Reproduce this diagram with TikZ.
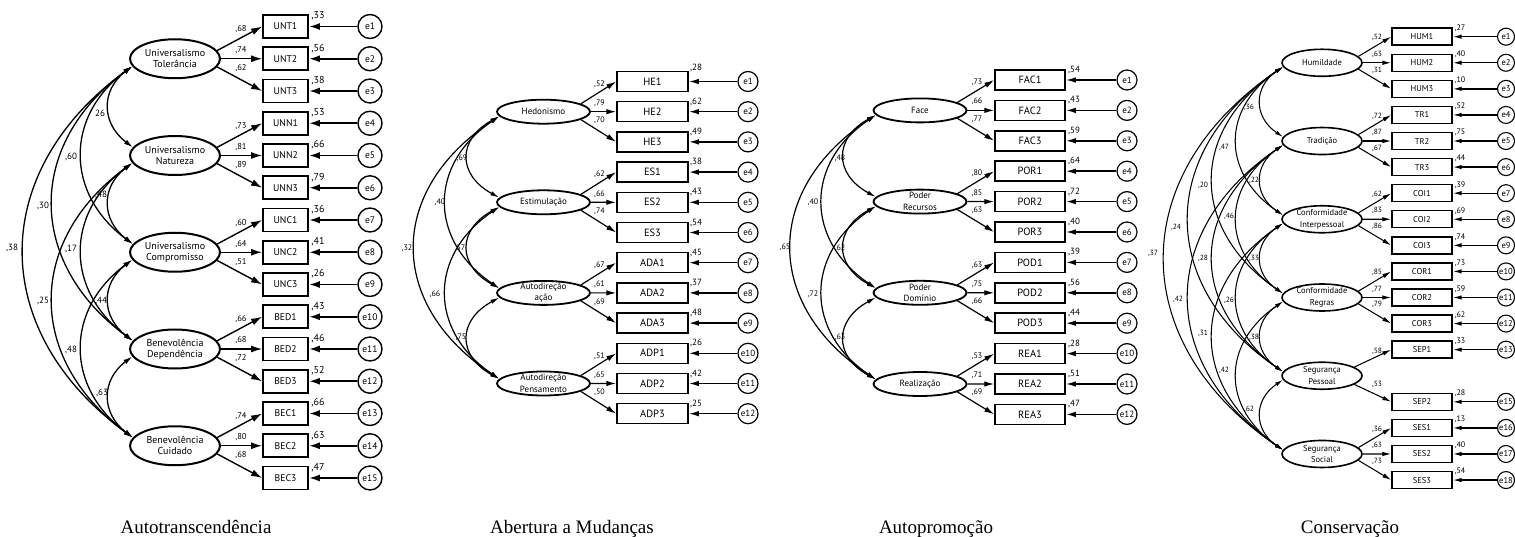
\documentclass[tikz,border=0pt]{standalone}
\usepackage{fontspec}
\setmainfont{PT Sans}
\newfontfamily\titlefont{Liberation Serif}
\usetikzlibrary{arrows.meta,calc,shapes.geometric}
\newcommand\cv[7]{%
  \draw[cov] (#1.\cvlo) .. controls ($(#1.\cvlo)+(-#3,#4)$) and ($(#2.\cvup)+(-#3,-#4)$) .. (#2.\cvup);
  \node[cvlab] (#1#2l) at (#6,#7) {#5};
}
\newcommand\ldt[7]{%
  \draw[ld] (#1.\ldang) -- (#2.west);
  \draw[ld] (#1.east) -- (#3.west);
  \draw[ld] (#1.\ldangb) -- (#4.west);
  \node[ldlab] (#1l1) at ($(#1.center)+(\ldx,\ldya)$) {,#5};
  \node[ldlab] (#1l2) at ($(#1.center)+(\ldx,\ldyb)$) {,#6};
  \node[ldlab] (#1l3) at ($(#1.center)+(\ldx,\ldyc)$) {,#7};
}
\begin{document}
\begin{tikzpicture}[x=1pt,y=-1pt,
  title/.style={font=\titlefont\fontsize{19}{21}\selectfont, anchor=base, inner sep=0pt}]
\useasboundingbox (0,0) rectangle (1515,537);

%================ Panel 1
\begin{scope}[
  lat/.style={ellipse, draw, line width=2pt, minimum width=90pt, minimum height=39pt, inner sep=0pt, align=center, font=\fontsize{10}{11}\selectfont},
  box/.style={draw, line width=1.8pt, minimum width=45pt, minimum height=23pt, inner sep=0pt, font=\fontsize{9.7}{10}\selectfont},
  err/.style={circle, draw, line width=1.4pt, minimum size=24pt, inner sep=0pt, font=\fontsize{9.5}{10}\selectfont},
  rlab/.style={inner sep=0pt, font=\fontsize{10}{10}\selectfont},
  ld/.style={line width=1.4pt, -{Latex[length=11pt,width=7pt]}},
  earr/.style={line width=1.8pt, -{Latex[length=11pt,width=7pt]}},
  cov/.style={line width=1.3pt, {Latex[length=9pt,width=5pt]}-{Latex[length=9pt,width=5pt]}},
  ldlab/.style={inner sep=0pt, font=\fontsize{8.5}{9}\selectfont},
  cvlab/.style={inner sep=0pt, font=\fontsize{9}{9}\selectfont}]
\def\cvlo{190}\def\cvup{169}\def\ldang{11}\def\ldangb{349}
\def\ldx{66}\def\ldya{-29.5}\def\ldyb{-8.5}\def\ldyc{9.5}
\foreach \n/\r [count=\k from 0] in {UNT1/33,UNT2/56,UNT3/38,UNN1/53,UNN2/66,UNN3/79,UNC1/36,UNC2/41,UNC3/26,BED1/43,BED2/46,BED3/52,BEC1/66,BEC2/63,BEC3/47}{
  \pgfmathsetmacro\yy{26.5+32.25*\k}
  \pgfmathtruncatemacro\ei{\k+1}
  \node[box] (a\n) at (285.5,\yy) {\n};
  \node[err] (ae\ei) at (370,\yy) {e\ei};
  \node[rlab] (ar\ei) at (318,\yy-10.5) {,\r};
  \draw[earr] (ae\ei) -- (a\n);
}
\node[lat] (UT) at (175,58.75) {Universalismo\\Tolerância};
\node[lat] (UN) at (175,155.5) {Universalismo\\Natureza};
\node[lat] (UC) at (175,252.25) {Universalismo\\Compromisso};
\node[lat] (BD) at (175,349) {Benevolência\\Dependência};
\node[lat] (BC) at (175,445.75) {Benevolência\\Cuidado};
\ldt{UT}{aUNT1}{aUNT2}{aUNT3}{68}{74}{62}
\ldt{UN}{aUNN1}{aUNN2}{aUNN3}{73}{81}{89}
\ldt{UC}{aUNC1}{aUNC2}{aUNC3}{60}{64}{51}
\ldt{BD}{aBED1}{aBED2}{aBED3}{66}{68}{72}
\ldt{BC}{aBEC1}{aBEC2}{aBEC3}{74}{80}{68}
\cv{UT}{UN}{31.6}{24}{26}{100}{113}
\cv{UT}{UC}{67.6}{50}{,60}{71}{157}
\cv{UT}{BD}{106.3}{78}{,30}{43}{206}
\cv{UT}{BC}{145}{106}{,38}{12}{248}
\cv{UN}{UC}{31.6}{24}{,48}{101}{195}
\cv{UN}{BD}{67.6}{50}{,17}{71}{249}
\cv{UN}{BC}{106.3}{78}{,25}{43}{301}
\cv{UC}{BD}{31.6}{24}{,44}{101}{301}
\cv{UC}{BC}{67.6}{50}{,48}{71}{350}
\cv{BD}{BC}{31.6}{24}{,63}{102}{393}
\node[title] (t1) at (196,533) {Autotranscendência};
\end{scope}

%================ Panel 2
\begin{scope}[
  lat/.style={ellipse, draw, line width=1.8pt, minimum width=93pt, minimum height=24pt, inner sep=0pt, inner ysep=-2pt, align=center, font=\fontsize{9}{11.5}\selectfont},
  box/.style={draw, line width=1.5pt, minimum width=71pt, minimum height=20pt, inner sep=0pt, font=\fontsize{10.5}{11}\selectfont},
  err/.style={circle, draw, line width=1.2pt, minimum size=20pt, inner sep=0pt, font=\fontsize{9}{10}\selectfont},
  rlab/.style={inner sep=0pt, font=\fontsize{9}{10}\selectfont},
  ld/.style={line width=1.2pt, -{Latex[length=10pt,width=5.5pt]}},
  earr/.style={line width=1.5pt, -{Latex[length=10pt,width=5.5pt]}},
  cov/.style={line width=1.2pt, {Latex[length=9pt,width=4.5pt]}-{Latex[length=9pt,width=4.5pt]}},
  ldlab/.style={inner sep=0pt, font=\fontsize{8}{9}\selectfont},
  cvlab/.style={inner sep=0pt, font=\fontsize{8}{9}\selectfont}]
\def\cvlo{186}\def\cvup{174}\def\ldang{12}\def\ldangb{348}
\def\ldx{56}\def\ldya{-27.7}\def\ldyb{-8.4}\def\ldyc{9}
\foreach \n/\r [count=\k from 0] in {HE1/28,HE2/62,HE3/49,ES1/38,ES2/43,ES3/54,ADA1/45,ADA2/37,ADA3/48,ADP1/26,ADP2/42,ADP3/25}{
  \pgfmathsetmacro\yy{81.5+30.2*\k}
  \pgfmathsetmacro\ry{\k==0 ? \yy-14 : \yy-10}
  \pgfmathtruncatemacro\ei{\k+1}
  \node[box] (b\n) at (652.5,\yy) {\n};
  \node[err] (be\ei) at (748,\yy) {e\ei};
  \node[rlab] (br\ei) at (696,\ry) {,\r};
  \draw[earr] (be\ei) -- (b\n);
}
\node[lat] (HE) at (543.5,111.7) {Hedonismo};
\node[lat] (ES) at (543.5,202.3) {Estimulação};
\node[lat] (AA) at (543.5,292.9) {Autodireção\\ação};
\node[lat] (AP) at (543.5,383.5) {Autodireção\\Pensamento};
\ldt{HE}{bHE1}{bHE2}{bHE3}{52}{79}{70}
\ldt{ES}{bES1}{bES2}{bES3}{62}{66}{74}
\ldt{AA}{bADA1}{bADA2}{bADA3}{67}{61}{69}
\ldt{AP}{bADP1}{bADP2}{bADP3}{51}{65}{50}
\cv{HE}{ES}{42}{23}{,69}{462}{158}
\cv{HE}{AA}{71}{48}{,40}{440}{202}
\cv{HE}{AP}{112.5}{74}{,32}{407}{248}
\cv{ES}{AA}{42}{23}{,57}{460}{248}
\cv{ES}{AP}{71}{48}{,66}{435}{294}
\cv{AA}{AP}{42}{23}{,75}{461}{337}
\node[title] (t2) at (572,533) {Abertura a Mudanças};
\end{scope}

%================ Panel 3
\begin{scope}[
  lat/.style={ellipse, draw, line width=1.8pt, minimum width=93pt, minimum height=24pt, inner sep=0pt, inner ysep=-2pt, align=center, font=\fontsize{9}{11.5}\selectfont},
  box/.style={draw, line width=1.5pt, minimum width=70pt, minimum height=20pt, inner sep=0pt, font=\fontsize{10.5}{11}\selectfont},
  err/.style={circle, draw, line width=1.2pt, minimum size=20pt, inner sep=0pt, font=\fontsize{9}{10}\selectfont},
  rlab/.style={inner sep=0pt, font=\fontsize{9}{10}\selectfont},
  ld/.style={line width=1.2pt, -{Latex[length=10pt,width=5.5pt]}},
  earr/.style={line width=1.5pt, -{Latex[length=10pt,width=5.5pt]}},
  cov/.style={line width=1.2pt, {Latex[length=9pt,width=4.5pt]}-{Latex[length=9pt,width=4.5pt]}},
  ldlab/.style={inner sep=0pt, font=\fontsize{8}{9}\selectfont},
  cvlab/.style={inner sep=0pt, font=\fontsize{8}{9}\selectfont}]
\def\cvlo{186}\def\cvup{174}\def\ldang{12}\def\ldangb{348}
\def\ldx{57}\def\ldya{-28}\def\ldyb{-8.7}\def\ldyc{8.6}
\foreach \n/\r [count=\k from 0] in {FAC1/54,FAC2/43,FAC3/59,POR1/64,POR2/72,POR3/40,POD1/39,POD2/56,POD3/44,REA1/28,REA2/51,REA3/47}{
  \pgfmathsetmacro\yy{80+30.4*\k}
  \pgfmathtruncatemacro\ei{\k+1}
  \node[box] (c\n) at (1030,\yy) {\n};
  \node[err] (ce\ei) at (1127,\yy) {e\ei};
  \node[rlab] (cr\ei) at (1074,\yy-10) {,\r};
  \draw[earr] (ce\ei) -- (c\n);
}
\node[lat] (FA) at (920,110.4) {Face};
\node[lat] (PR) at (920,201.6) {Poder\\Recursos};
\node[lat] (PD) at (920,292.8) {Poder\\Domínio};
\node[lat] (RE) at (920,384) {Realização};
\ldt{FA}{cFAC1}{cFAC2}{cFAC3}{73}{66}{77}
\ldt{PR}{cPOR1}{cPOR2}{cPOR3}{80}{85}{63}
\ldt{PD}{cPOD1}{cPOD2}{cPOD3}{63}{75}{66}
\ldt{RE}{cREA1}{cREA2}{cREA3}{53}{71}{69}
\cv{FA}{PR}{42}{23}{,48}{840}{158}
\cv{FA}{PD}{71}{48}{,40}{813}{202}
\cv{FA}{RE}{112.5}{74}{,65}{785}{247}
\cv{PR}{PD}{42}{23}{,62}{840}{248}
\cv{PR}{RE}{71}{48}{,72}{813}{294}
\cv{PD}{RE}{42}{23}{,63}{840}{337}
\node[title] (t3) at (936,533) {Autopromoção};
\end{scope}

%================ Panel 4
\begin{scope}[
  lat/.style={ellipse, draw, line width=1.6pt, minimum width=80pt, minimum height=27pt, inner sep=0pt, inner ysep=-2pt, align=center, font=\fontsize{8.5}{11.5}\selectfont},
  box/.style={draw, line width=1.4pt, minimum width=60pt, minimum height=17pt, inner sep=0pt, font=\fontsize{8.5}{9}\selectfont},
  err/.style={circle, draw, line width=1.1pt, minimum size=17pt, inner sep=0pt, font=\fontsize{8.5}{9}\selectfont},
  rlab/.style={inner sep=0pt, font=\fontsize{8}{9}\selectfont},
  ld/.style={line width=1.05pt, -{Latex[length=9pt,width=4.5pt]}},
  earr/.style={line width=1.3pt, -{Latex[length=9pt,width=4.5pt]}},
  cov/.style={line width=1.05pt, {Latex[length=8pt,width=4pt]}-{Latex[length=8pt,width=4pt]}},
  ldlab/.style={inner sep=0pt, font=\fontsize{7.5}{8}\selectfont},
  cvlab/.style={inner sep=0pt, font=\fontsize{7.5}{8}\selectfont}]
\def\cvlo{186}\def\cvup{174}\def\ldang{10}\def\ldangb{350}
\def\ldx{55}\def\ldya{-25}\def\ldyb{-8.4}\def\ldyc{7.3}
\foreach \n/\r/\s in {HUM1/27/0,HUM2/40/1,HUM3/10/2,TR1/52/3,TR2/75/4,TR3/44/5,COI1/39/6,COI2/69/7,COI3/74/8,COR1/73/9,COR2/59/10,COR3/62/11,SEP1/33/12,SEP2/28/14,SES1/13/15,SES2/40/16,SES3/54/17}{
  \pgfmathsetmacro\yy{36.7+26.08*\s}
  \pgfmathtruncatemacro\ei{\s+1}
  \node[box] (d\n) at (1422,\yy) {\n};
  \node[err] (de\ei) at (1506,\yy) {e\ei};
  \node[rlab] (dr\ei) at (1460,\yy-8.4) {,\r};
  \draw[earr] (de\ei) -- (d\n);
}
\node[lat] (HU) at (1322,62.78) {Humildade};
\node[lat] (TR) at (1322,141.02) {Tradição};
\node[lat] (CI) at (1322,219.26) {Conformidade\\Interpessoal};
\node[lat] (CR) at (1322,297.5) {Conformidade\\Regras};
\node[lat] (SP) at (1322,375.74) {Segurança\\Pessoal};
\node[lat] (SS) at (1322,453.98) {Segurança\\Social};
\ldt{HU}{dHUM1}{dHUM2}{dHUM3}{52}{63}{31}
\ldt{TR}{dTR1}{dTR2}{dTR3}{72}{87}{67}
\ldt{CI}{dCOI1}{dCOI2}{dCOI3}{62}{83}{86}
\ldt{CR}{dCOR1}{dCOR2}{dCOR3}{85}{77}{79}
\ldt{SS}{dSES1}{dSES2}{dSES3}{36}{63}{73}
\draw[ld] (SP.15) -- (dSEP1.west);
\draw[ld] (SP.345) -- (dSEP2.west);
\node[ldlab] (SPl1) at ($(SP.center)+(55,-24.7)$) {,58};
\node[ldlab] (SPl2) at ($(SP.center)+(55,8.3)$) {,53};
\cv{HU}{TR}{29.6}{20}{,36}{1249}{107}
\cv{HU}{CI}{61.6}{42}{,47}{1224}{147}
\cv{HU}{CR}{93.6}{64}{,20}{1203}{185}
\cv{HU}{SP}{125.6}{85}{,24}{1176}{227}
\cv{HU}{SS}{157.6}{107}{,37}{1153}{253}
\cv{TR}{CI}{29.6}{20}{,22}{1254}{180}
\cv{TR}{CR}{61.6}{42}{,46}{1229}{216}
\cv{TR}{SP}{93.6}{64}{,28}{1203}{258}
\cv{TR}{SS}{125.6}{85}{,42}{1178}{299}
\cv{CI}{CR}{29.6}{20}{,33}{1254}{258}
\cv{CI}{SP}{61.6}{42}{,26}{1229}{300}
\cv{CI}{SS}{93.6}{64}{,31}{1203}{333}
\cv{CR}{SP}{29.6}{20}{,38}{1254}{337}
\cv{CR}{SS}{61.6}{42}{,42}{1224}{370}
\cv{SP}{SS}{29.6}{20}{,62}{1249}{409}
\node[title] (t4) at (1350,533) {Conservação};
\end{scope}
\end{tikzpicture}
\end{document}
